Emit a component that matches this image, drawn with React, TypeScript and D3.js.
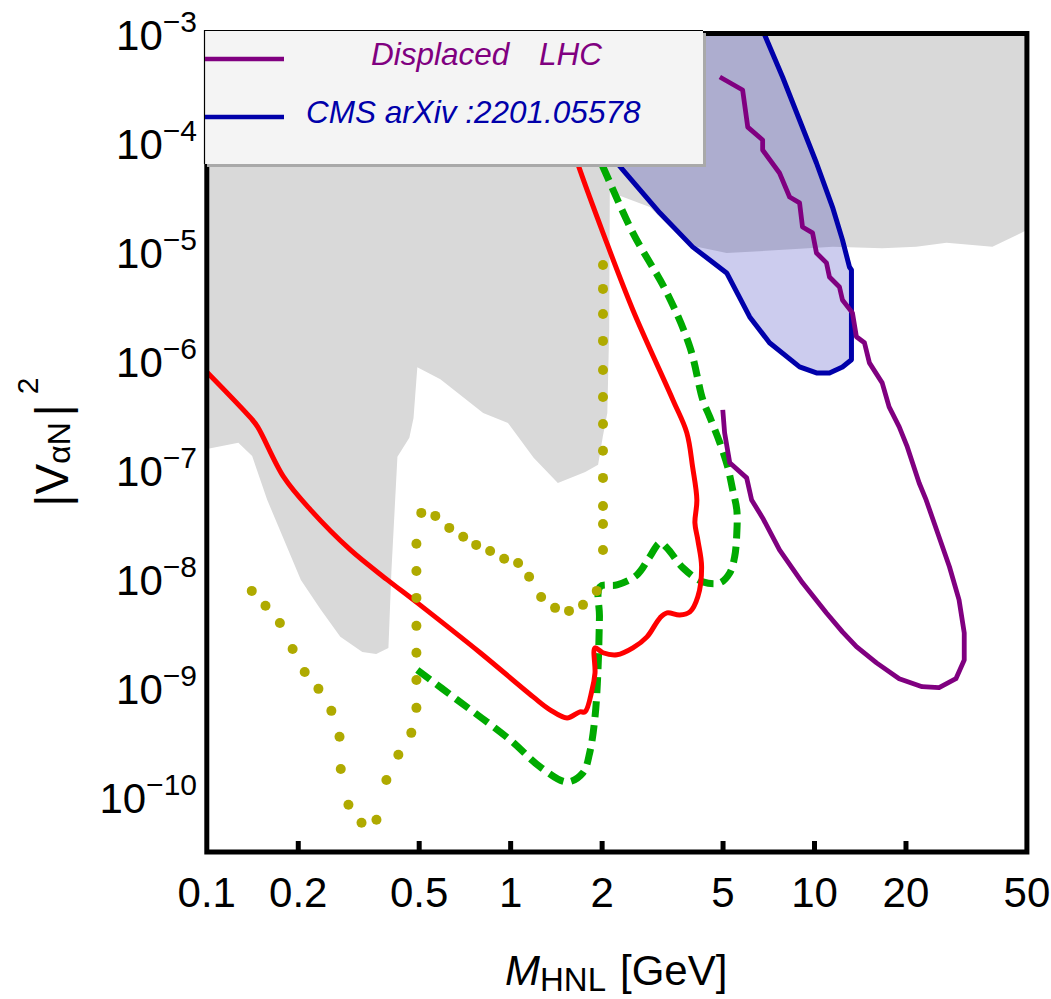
import React from 'react';
import * as d3 from 'd3';

type Pt = [number, number];

// x-axis ticks (HNL mass in GeV)
const xTickValues = [0.1, 0.2, 0.5, 1, 2, 5, 10, 20, 50];
const xTickLabels = ['0.1', '0.2', '0.5', '1', '2', '5', '10', '20', '50'];
// y-axis ticks (powers of ten)
const yTickExponents = [-10, -9, -8, -7, -6, -5, -4, -3];

// Excluded region (grey), lower boundary from left to right
const excludedBoundary: Pt[] = [
  [0.1, 1.58e-7], [0.127, 1.8e-7], [0.141, 1.36e-7], [0.158, 5.4e-8], [0.204, 9.9e-9],
  [0.237, 5.3e-9], [0.275, 2.98e-9], [0.325, 2.17e-9], [0.361, 2.08e-9], [0.396, 2.36e-9],
  [0.399, 4.0e-9], [0.405, 1.18e-8], [0.424, 1.34e-7], [0.464, 2.0e-7], [0.479, 3.04e-7],
  [0.493, 8.9e-7], [0.587, 6.9e-7], [0.812, 3.38e-7], [0.98, 2.74e-7], [1.19, 1.31e-7],
  [1.43, 7.7e-8], [1.76, 9.7e-8], [1.94, 1.13e-7], [2.01, 2.04e-7], [2.08, 3.38e-7],
  [2.11, 1.95e-6], [2.12, 3.6e-5], [2.87, 2.62e-5], [3.34, 1.72e-5], [4.1, 1.13e-5],
  [5.14, 9.9e-6], [11.5, 1.13e-5], [16.7, 1.1e-5], [21.6, 1.13e-5], [27.2, 1.23e-5],
  [38.5, 1.13e-5], [50, 1.61e-5], [50, 1e-3], [0.1, 1e-3],
];

// CMS arXiv:2201.05578 excluded contour
const cmsContour: Pt[] = [
  [6.85, 1e-3], [7.85, 4.09e-4], [10.15, 6.65e-5], [11.46, 2.62e-5], [12.36, 1.31e-5],
  [13.03, 7.39e-6], [13.23, 6.95e-6], [13.23, 1.04e-6], [12.36, 8.94e-7], [11.2, 7.87e-7],
  [10.15, 7.87e-7], [8.93, 8.94e-7], [7.11, 1.49e-6], [6.12, 2.57e-6], [5.14, 6.52e-6],
  [3.97, 1.13e-5], [3.1, 2.31e-5], [2.34, 5.74e-5], [1.82, 1.34e-4], [1.45, 1e-3],
];

// Displaced LHC sensitivity (purple)
const displacedLHC: Pt[] = [
  [4.88, 4.09e-4], [5.8, 3.11e-4], [6.03, 1.42e-4], [6.75, 1.08e-4], [6.75, 8.75e-5],
  [7.67, 5.38e-5], [8.28, 3.24e-5], [8.93, 2.86e-5], [9.13, 1.72e-5], [9.85, 1.52e-5],
  [10.15, 9.93e-6], [10.95, 8.05e-6], [11.2, 5.98e-6], [12.08, 4.84e-6], [12.36, 3.68e-6],
  [13.33, 2.8e-6], [13.74, 1.69e-6], [14.6, 1.49e-6], [15.16, 9.73e-7], [16.7, 6.38e-7],
  [17.6, 3.84e-7], [19.0, 2.52e-7], [20.2, 1.65e-7], [22.1, 7.7e-8], [23.3, 5.38e-8],
  [25.7, 2.46e-8], [27.8, 1.31e-8], [29.9, 6.5e-9], [31.1, 3.24e-9], [31.1, 1.83e-9],
  [29.2, 1.23e-9], [25.7, 1.02e-9], [22.6, 1.04e-9], [19.0, 1.23e-9], [16.0, 1.72e-9],
  [13.74, 2.42e-9], [12.36, 3.31e-9], [10.95, 4.93e-9], [9.13, 9.33e-9], [7.67, 1.87e-8],
  [6.75, 3.68e-8], [6.21, 5.38e-8], [5.98, 8.57e-8], [5.26, 1.18e-7], [5.06, 2.22e-7],
  [4.99, 3.61e-7],
];

// Red solid sensitivity curve
const redCurve: Pt[] = [
  [0.1, 8.04e-7], [0.1395, 3.04e-7], [0.147, 2.52e-7], [0.179, 8.75e-8], [0.2196, 4.36e-8],
  [0.297, 1.87e-8], [0.393, 9.94e-9], [0.493, 6.11e-9], [0.794, 2.13e-9], [1.186, 8.39e-10],
  [1.348, 6.38e-10], [1.533, 5.38e-10], [1.69, 6.11e-10], [1.757, 6.11e-10], [1.853, 9.73e-10],
  [1.895, 1.39e-9], [1.895, 2.36e-9], [2.013, 2.13e-9], [2.238, 2.04e-9], [2.525, 2.36e-9],
  [2.81, 2.98e-9], [3.1, 4.45e-9], [3.27, 4.95e-9], [3.6, 4.74e-9], [3.89, 5.05e-9],
  [4.13, 6.94e-9], [4.25, 1.31e-8], [4.13, 2.31e-8], [4.04, 3.31e-8], [4.1, 5.38e-8],
  [3.97, 1.08e-7], [3.8, 2.22e-7], [3.42, 4.45e-7], [2.525, 2.98e-6], [2.013, 1.52e-5],
  [1.69, 5.74e-5], [1.568, 1.08e-4],
];

// Green dashed sensitivity curve
const greenCurve: Pt[] = [
  [0.493, 1.48e-9], [0.667, 7.87e-10], [0.996, 3.38e-10], [1.25, 1.91e-10], [1.533, 1.39e-10],
  [1.73, 1.69e-10], [1.82, 2.57e-10], [1.895, 5.5e-10], [1.94, 1.58e-9], [1.96, 4.55e-9],
  [1.968, 8.57e-9], [2.238, 8.94e-9], [2.6, 1.1e-8], [2.87, 1.62e-8], [3.1, 2.17e-8],
  [3.27, 1.95e-8], [3.69, 1.28e-8], [4.29, 9.53e-9], [4.88, 9.33e-9], [5.26, 1.15e-8],
  [5.46, 1.62e-8], [5.55, 2.68e-8], [5.55, 4.36e-8], [5.38, 6.65e-8], [5.18, 1.08e-7],
  [4.88, 1.8e-7], [4.52, 3.11e-7], [4.29, 4.45e-7], [3.89, 1.36e-6], [3.27, 4.27e-6],
  [2.525, 1.52e-5], [2.013, 6.11e-5], [1.895, 8.75e-5],
];

// Olive dotted sensitivity curve: the dots
const dottedPoints: Pt[] = [
  [0.1406, 7.87e-9], [0.156, 5.74e-9], [0.174, 4.0e-9], [0.1916, 2.31e-9], [0.21, 1.42e-9],
  [0.233, 9.93e-10], [0.257, 6.24e-10], [0.2734, 3.61e-10], [0.276, 1.83e-10], [0.2925, 8.57e-11],
  [0.323, 5.86e-11], [0.3617, 6.24e-11], [0.39, 1.45e-10], [0.427, 2.47e-10], [0.471, 3.92e-10],
  [0.4896, 6.65e-10], [0.4896, 1.2e-9], [0.4896, 2.13e-9], [0.4896, 3.76e-9], [0.4896, 6.79e-9],
  [0.4896, 1.2e-8], [0.4896, 2.13e-8], [0.508, 4.09e-8], [0.565, 3.84e-8], [0.628, 2.98e-8],
  [0.698, 2.47e-8], [0.77, 2.08e-8], [0.856, 1.83e-8], [0.952, 1.55e-8], [1.058, 1.42e-8],
  [1.15, 1.06e-8], [1.26, 6.93e-9], [1.4, 5.5e-9], [1.556, 5.16e-9], [1.73, 5.86e-9],
  [1.92, 7.87e-9], [2.013, 1.87e-8], [2.013, 3.24e-8], [2.013, 4.74e-8], [2.013, 8.57e-8],
  [2.013, 1.52e-7], [2.013, 2.68e-7], [2.013, 4.74e-7], [2.013, 8.39e-7], [2.013, 1.55e-6],
  [2.013, 2.74e-6], [2.013, 4.65e-6], [2.013, 7.71e-6],
];

const FONT = "'Liberation Sans', Arial, Helvetica, sans-serif";

export default function App() {
  const W = 1051;
  const H = 999;
  const x0 = 206.8, x1 = 1026.9, yTop = 34.7, yBot = 852;
  const x = d3.scaleLog().domain([0.1, 50]).range([x0, x1]);
  const y = d3.scaleLog().domain([Math.pow(10, -10.5), 1e-3]).range([yBot, yTop]);
  const line = d3.line<Pt>().x(d => x(d[0])).y(d => y(d[1]));
  const smooth = d3.line<Pt>().x(d => x(d[0])).y(d => y(d[1])).curve(d3.curveCatmullRom.alpha(0.5));

  const purple = '#800080';
  const blue = '#0000aa';

  return (
    <svg width={W} height={H} viewBox={`0 0 ${W} ${H}`}
      style={{ position: 'absolute', left: 0, top: 0, background: '#fff' }}
      fontFamily={FONT}>
      <defs>
        <clipPath id="plotClip">
          <rect x={x0} y={yTop} width={x1 - x0} height={yBot - yTop} />
        </clipPath>
      </defs>
      <rect x={0} y={0} width={W} height={H} fill="#fff" />
      <g clipPath="url(#plotClip)">
        <path d={line(excludedBoundary) + 'Z'} fill="#d9d9d9" stroke="none" />
        <path d={line(cmsContour) + 'Z'} fill="rgb(0,0,170)" fillOpacity={0.2} stroke="none" />
        <path d={line(cmsContour) || ''} fill="none" stroke={blue} strokeWidth={5} strokeLinejoin="round" />
        <path d={smooth(greenCurve) || ''} fill="none" stroke="#00aa00" strokeWidth={7}
          strokeDasharray="16 8" />
        <path d={smooth(redCurve) || ''} fill="none" stroke="#ff0000" strokeWidth={5} strokeLinejoin="round" />
        {dottedPoints.map((d, i) => (
          <circle key={'dot' + i} cx={x(d[0])} cy={y(d[1])} r={5} fill="#afaa00" />
        ))}
        <path d={line(displacedLHC) || ''} fill="none" stroke={purple} strokeWidth={4.8} strokeLinejoin="round" />
      </g>

      {/* frame */}
      <rect x={x0} y={33.5} width={x1 - x0} height={yBot - 33.5} fill="none" stroke="#000" strokeWidth={5} />
      {/* ticks */}
      {yTickExponents.filter(e => e > -3).map(e => (
        <line key={'yt' + e} x1={x0} x2={x0 + 11} y1={y(Math.pow(10, e))} y2={y(Math.pow(10, e))}
          stroke="#000" strokeWidth={5} />
      ))}
      {xTickValues.filter(v => v > 0.1 && v < 50).map(v => (
        <line key={'xt' + v} x1={x(v)} x2={x(v)} y1={yBot} y2={yBot - 11} stroke="#000" strokeWidth={5} />
      ))}

      {/* y tick labels */}
      {yTickExponents.map(e => (
        <text key={'yl' + e} x={197} y={y(Math.pow(10, e)) + 15} textAnchor="end" fontSize={42} fill="#000">
          10<tspan fontSize={30} dy={-18}>{'\u2212' + Math.abs(e)}</tspan>
        </text>
      ))}
      {/* x tick labels */}
      {xTickValues.map((v, i) => (
        <text key={'xl' + v} x={x(v)} y={907} textAnchor="middle" fontSize={42} fill="#000">
          {xTickLabels[i]}
        </text>
      ))}

      {/* axis titles */}
      <text x={505} y={985} fontSize={42} fill="#000">
        <tspan fontStyle="italic">M</tspan>
        <tspan fontSize={33} dy={6}>HNL</tspan>
        <tspan x={620} dy={-6}>[GeV]</tspan>
      </text>
      <text transform="translate(68,442) rotate(-90)" textAnchor="middle" fontSize={46} fill="#000"
        xmlSpace="preserve" style={{ whiteSpace: 'pre' }}>
        {'|V'}<tspan fontSize={32} dy={2}>{'\u03b1N'}</tspan><tspan dx={6} dy={-2}>|</tspan><tspan fontSize={30} dx={10} dy={-30}>2</tspan>
      </text>

      {/* legend */}
      <g>
        <rect x={207} y={33} width={499} height={134} fill="#a9a9a9" />
        <rect x={204} y={30} width={499} height={134} fill="#f4f4f4" />
        <line x1={204} x2={703} y1={30.5} y2={30.5} stroke="#000" strokeWidth={1.2} />
        <line x1={204.5} x2={204.5} y1={30} y2={164} stroke="#000" strokeWidth={1.2} />
        <line x1={205} x2={284} y1={59} y2={59} stroke={purple} strokeWidth={4.5} />
        <line x1={205} x2={284} y1={117} y2={117} stroke={blue} strokeWidth={4.5} />
        <text y={65} fontSize={31.5} fontStyle="italic" fill={purple}>
          <tspan x={371}>Displaced</tspan>
          <tspan x={539}>LHC</tspan>
        </text>
        <text x={306} y={123} fontSize={31.5} fontStyle="italic" fill={blue}
          xmlSpace="preserve" style={{ whiteSpace: 'pre' }}>{'CMS arXiv :2201.05578'}</text>
      </g>
    </svg>
  );
}
